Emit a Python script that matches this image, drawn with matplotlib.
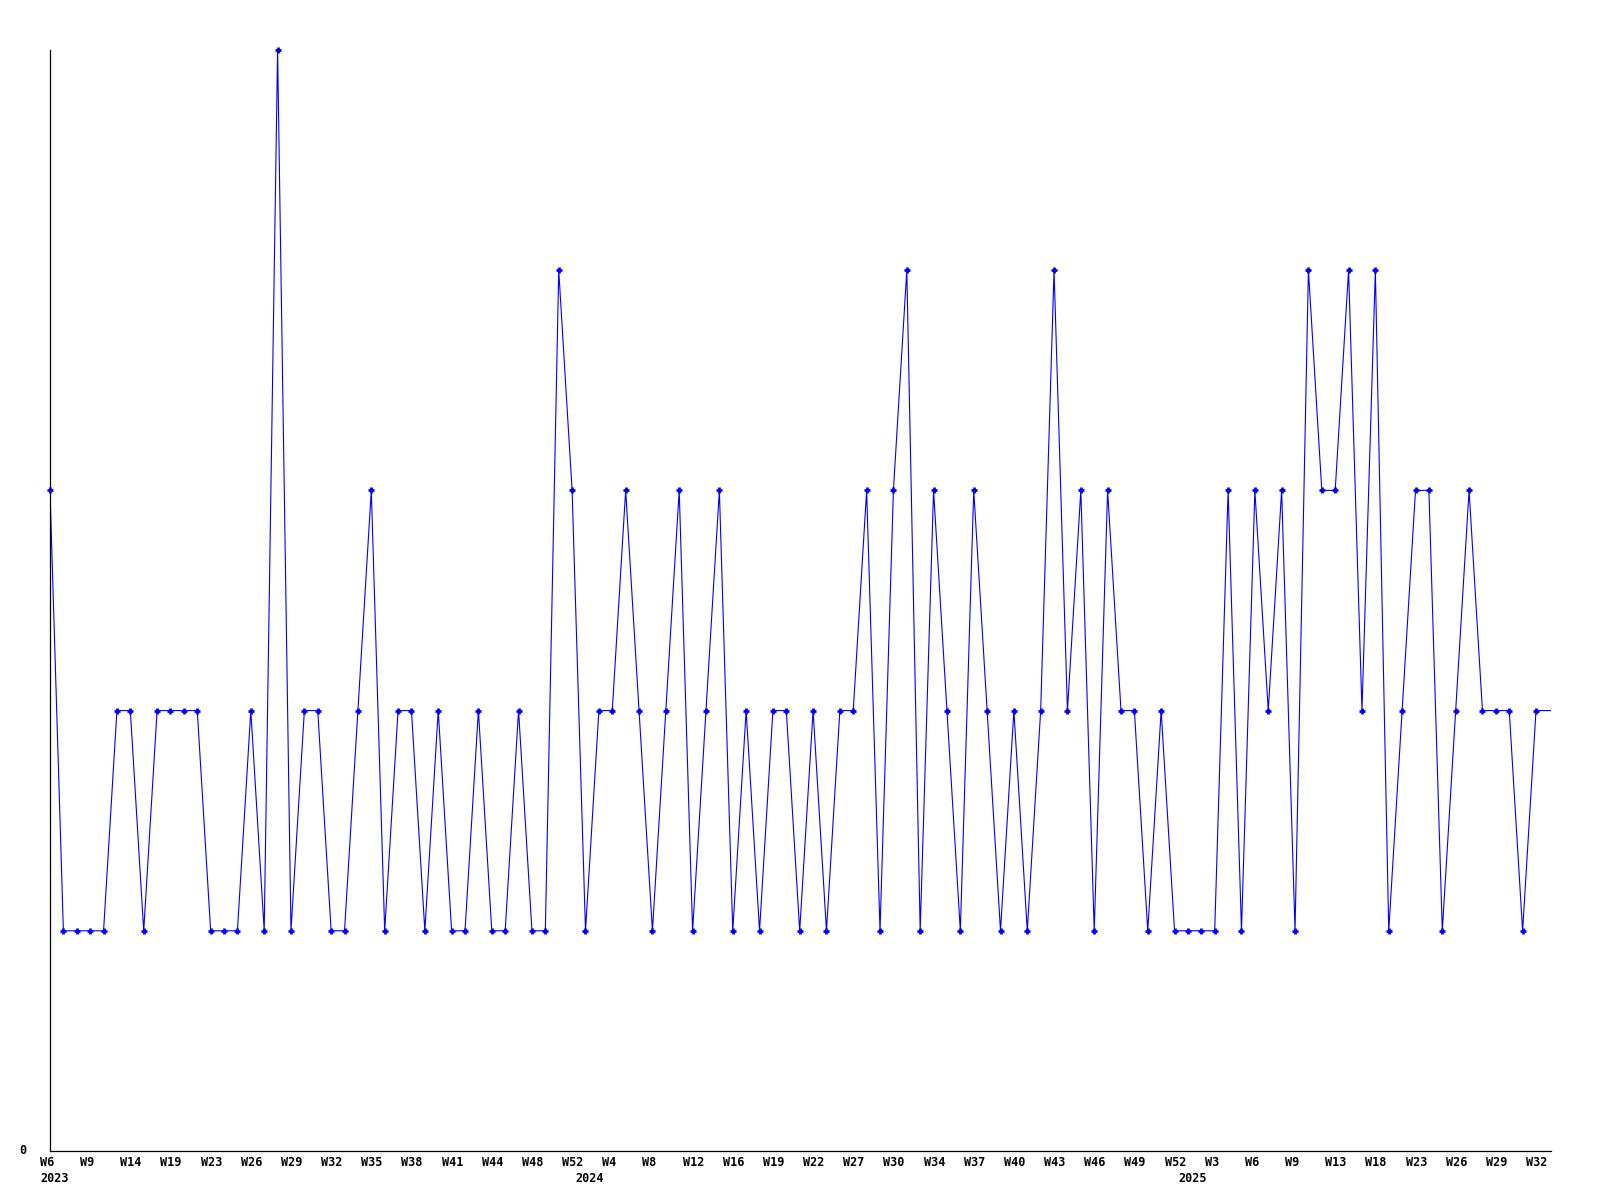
import matplotlib
matplotlib.use("Agg")
import matplotlib.pyplot as plt
import numpy as np

# ---- data ----
values = [3, 1, 1, 1, 1, 2, 2, 1, 2, 2, 2, 2, 1, 1, 1, 2, 1, 5, 1, 2,
          2, 1, 1, 2, 3, 1, 2, 2, 1, 2, 1, 1, 2, 1, 1, 2, 1, 1, 4, 3,
          1, 2, 2, 3, 2, 1, 2, 3, 1, 2, 3, 1, 2, 1, 2, 2, 1, 2, 1, 2,
          2, 3, 1, 3, 4, 1, 3, 2, 1, 3, 2, 1, 2, 1, 2, 4, 2, 3, 1, 3,
          2, 2, 1, 2, 1, 1, 1, 1, 3, 1, 3, 2, 3, 1, 4, 3, 3, 4, 2, 4,
          1, 2, 3, 3, 1, 2, 3, 2, 2, 2, 1, 2]
week_labels = ["W6", "W9", "W14", "W19", "W23", "W26", "W29", "W32", "W35",
               "W38", "W41", "W44", "W48", "W52",
               "W4", "W8", "W12", "W16", "W19", "W22", "W27", "W30", "W34",
               "W37", "W40", "W43", "W46", "W49", "W52",
               "W3", "W6", "W9", "W13", "W18", "W23", "W26", "W29", "W32"]
label_step = 3
year_labels = ["2023", "2024", "2025"]
year_start_index = [0, 40, 85]

# ---- figure ----
W, H, DPI = 1600, 1200, 100
fig = plt.figure(figsize=(W / DPI, H / DPI), dpi=DPI)
left_px, right_px, top_px, bottom_px = 50, 1551, 50, 1151
ax = fig.add_axes([left_px / W, (H - bottom_px) / H,
                   (right_px - left_px) / W, (bottom_px - top_px) / H])

n = len(values)
x = np.arange(n)
step_px = (1536 - 50) / (n - 1)
xmax = (right_px - left_px) / step_px

blue = "#0000ff"
# line extended to the right edge with the last value
ax.plot(list(x) + [xmax], values + [values[-1]], color=blue, lw=0.8,
        antialiased=True, clip_on=True, zorder=2)
ax.plot(x, values, linestyle="none", marker="+", markersize=4.5,
        markeredgewidth=2.0, color=blue, zorder=3, clip_on=False)

ax.set_xlim(0, xmax)
ax.set_ylim(0, 5)
for s in ("top", "right"):
    ax.spines[s].set_visible(False)
for s in ("left", "bottom"):
    ax.spines[s].set_linewidth(0.9)
    ax.spines[s].set_color("black")
ax.set_xticks([])
ax.set_yticks([])

font = dict(family="DejaVu Sans Mono", fontweight="bold", fontsize=8.5,
            color="black")
px = 72.0 / DPI  # points per pixel

for k, lab in enumerate(week_labels):
    ax.annotate(lab, xy=(k * label_step, 0), xycoords=("data", "axes fraction"),
                xytext=(-10 * px, -12 * px), textcoords="offset points",
                ha="left", va="center", annotation_clip=False, **font)

for lab, idx in zip(year_labels, year_start_index):
    ax.annotate(lab, xy=(idx, 0), xycoords=("data", "axes fraction"),
                xytext=(-10 * px, -27 * px), textcoords="offset points",
                ha="left", va="center", annotation_clip=False, **font)

ax.annotate("0", xy=(0, 0), xycoords=("axes fraction", "data"),
            xytext=(-27 * px, 0), textcoords="offset points",
            ha="center", va="center", annotation_clip=False, **font)

fig.savefig("out.png", dpi=DPI, facecolor="white")
